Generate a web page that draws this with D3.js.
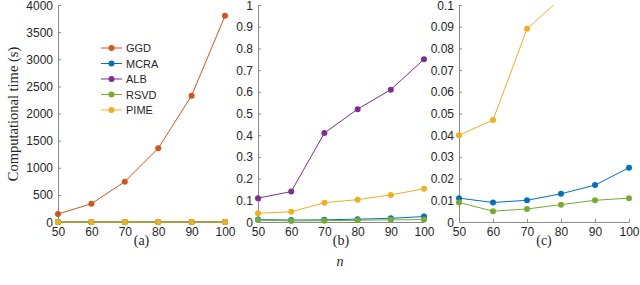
<!DOCTYPE html>
<html>
<head>
<meta charset="utf-8">
<script src="https://cdn.jsdelivr.net/npm/d3@7"></script>
<style>
    body { margin: 0; background: #fff; }
    .tick text { font-family: "Liberation Sans", Arial, sans-serif; font-size: 12px; fill: #262626; }
    .domain, .tick line { stroke: #8a8a8a; }
    .serif { font-family: "Liberation Serif", "DejaVu Serif", serif; fill: #262626; }
    .legend-text { font-family: "Liberation Sans", Arial, sans-serif; font-size: 11px; fill: #262626; }
</style>
</head>
<body>
<div id="chart"></div>
<script>
// problem size n
const sizes = [50, 60, 70, 80, 90, 100];

// computational time (s) per method
const ggd  = [147, 337, 743, 1358, 2328, 3800];
const mcra = [0.011, 0.009, 0.010, 0.013, 0.017, 0.025];
const alb  = [0.11, 0.14, 0.41, 0.52, 0.61, 0.75];
const rsvd = [0.009, 0.005, 0.006, 0.008, 0.010, 0.011];
const pime = [0.040, 0.047, 0.089, 0.103, 0.125, 0.153];

const methods = ["GGD", "MCRA", "ALB", "RSVD", "PIME"];
const colors = ["#D95319", "#0072BD", "#7E2F8E", "#77AC30", "#EDB120"];

const panelLabels = ["(a)", "(b)", "(c)"];
const yMaxes = [4000, 1, 0.1];

let series = methods.map((m, i) => ({
    name: m,
    color: colors[i],
    values: [ggd, mcra, alb, rsvd, pime][i]
}));

let width = 640, height = 285;
let svg = d3.select("#chart").append("svg")
    .attr("width", width)
    .attr("height", height);

let panels = [
    {left: 58, right: 225},
    {left: 258, right: 424},
    {left: 459, right: 629}
];
let plotTop = 5, plotBottom = 222;

panels.forEach(function (p, k) {
    let x = d3.scaleLinear().domain([50, 100]).range([p.left, p.right]);
    let y = d3.scaleLinear().domain([0, yMaxes[k]]).range([plotBottom, plotTop]);

    let g = svg.append("g");

    let xAxisGroup = g.append("g")
        .attr("transform", `translate(0,${plotBottom})`)
        .call(d3.axisBottom(x).tickValues(sizes).tickSizeInner(-3).tickSizeOuter(0).tickPadding(5));
    xAxisGroup.selectAll(".tick text").attr("dy", null).attr("y", 5)
        .style("dominant-baseline", "hanging");

    let yTicks = k == 0 ? d3.range(0, 4001, 500) : d3.ticks(0, yMaxes[k], 10);
    let yAxisGroup = g.append("g")
        .attr("transform", `translate(${p.left},0)`)
        .call(d3.axisLeft(y).tickValues(yTicks).tickFormat(d3.format("~g"))
            .tickSizeInner(-3).tickSizeOuter(0).tickPadding(5));
    yAxisGroup.selectAll(".tick text").attr("dy", null).attr("x", -5)
        .style("dominant-baseline", "central");

    let clipId = "clip" + k;
    g.append("clipPath").attr("id", clipId)
        .append("rect")
        .attr("x", p.left - 5).attr("y", plotTop)
        .attr("width", p.right - p.left + 10).attr("height", plotBottom - plotTop + 5);

    let line = d3.line()
        .x((d, i) => x(sizes[i]))
        .y(d => y(d));

    let plot = g.append("g").attr("clip-path", `url(#${clipId})`);

    series.forEach(function (s) {
        plot.append("path")
            .datum(s.values)
            .attr("d", line)
            .attr("fill", "none")
            .attr("stroke", s.color)
            .attr("stroke-width", 1);

        g.selectAll(null)
            .data(s.values.map((v, i) => ({n: sizes[i], v: v})).filter(d => d.v <= yMaxes[k]))
            .enter()
            .append("circle")
            .attr("cx", d => x(d.n))
            .attr("cy", d => y(d.v))
            .attr("r", 3)
            .attr("fill", s.color);
    });

    g.append("text")
        .attr("class", "serif")
        .attr("x", (p.left + p.right) / 2)
        .attr("y", 240)
        .style("dominant-baseline", "central")
        .style("text-anchor", "middle")
        .style("font-size", "14px")
        .text(panelLabels[k]);
});

svg.append("text")
    .attr("class", "serif")
    .attr("x", 340)
    .attr("y", 261)
    .style("dominant-baseline", "central")
    .style("text-anchor", "middle")
    .style("font-size", "14px")
    .style("font-style", "italic")
    .text("n");

svg.append("text")
    .attr("class", "serif")
    .attr("transform", "translate(13,114) rotate(-90)")
    .style("dominant-baseline", "central")
    .style("text-anchor", "middle")
    .style("font-size", "14.5px")
    .text("Computational time (s)");

// legend
let legend = svg.append("g").attr("transform", "translate(101,48)");
series.forEach(function (s, i) {
    let row = legend.append("g").attr("transform", `translate(0,${i * 15.5})`);
    row.append("line")
        .attr("x1", 0).attr("x2", 21)
        .attr("stroke", s.color).attr("stroke-width", 1);
    row.append("circle").attr("cx", 10.5).attr("r", 3).attr("fill", s.color);
    row.append("text")
        .attr("class", "legend-text")
        .attr("x", 25)
        .style("dominant-baseline", "central")
        .text(s.name);
});
</script>
</body>
</html>
